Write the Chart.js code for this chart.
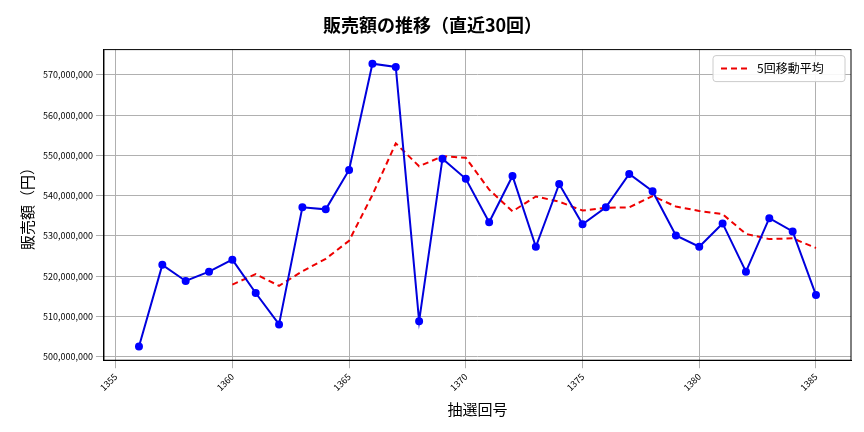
<!DOCTYPE html>
<html><head><meta charset="utf-8">
<script src="https://cdn.jsdelivr.net/npm/chart.js@4/dist/chart.umd.min.js"></script>
<style>html,body{margin:0;padding:0;background:#fff}#w{width:864px;height:432px}</style>
</head><body><div id="w"><canvas id="c"></canvas></div>
<script>
const rounds = [1356,1357,1358,1359,1360,1361,1362,1363,1364,1365,1366,1367,1368,1369,1370,1371,1372,1373,1374,1375,1376,1377,1378,1379,1380,1381,1382,1383,1384,1385];
const sales = [502.5,522.8,518.8,521.1,524.1,515.8,508.0,537.1,536.6,546.4,572.8,572.0,508.8,549.2,544.2,533.4,544.9,527.3,542.9,532.9,537.1,545.4,541.1,530.1,527.3,533.1,521.1,534.4,531.1,515.3];
const maRounds = [1360,1361,1362,1363,1364,1365,1366,1367,1368,1369,1370,1371,1372,1373,1374,1375,1376,1377,1378,1379,1380,1381,1382,1383,1384,1385];
const ma5 = [517.9,520.5,517.6,521.2,524.3,528.8,540.2,553.0,547.3,549.8,549.4,541.5,536.1,539.8,538.5,536.3,537.0,537.1,539.9,537.3,536.2,535.4,530.5,529.2,529.4,527.0];
const xTicks = [1355,1360,1365,1370,1375,1380,1385];
const yTicks = [500,510,520,530,540,550,560,570];
const F = "'Noto Sans CJK JP','Noto Sans',sans-serif";
new Chart(document.getElementById('c'), {
  type:'line',
  data:{datasets:[
    {data:rounds.map((r,i)=>({x:r,y:sales[i]*1e6})),borderColor:'#0000dd',backgroundColor:'#0000ff',borderWidth:2,pointRadius:3,pointBackgroundColor:'#0000ff',pointBorderColor:'#0000ff',tension:0},
    {label:'5回移動平均',data:maRounds.map((r,i)=>({x:r,y:ma5[i]*1e6})),borderColor:'#ee0000',borderWidth:2,borderDash:[6,4],pointRadius:0,tension:0,backgroundColor:'#ee0000'}
  ]},
  options:{responsive:true,maintainAspectRatio:false,animation:false,
    layout:{padding:{left:14,right:13,top:8,bottom:10}},
    plugins:{
      title:{display:true,text:'販売額の推移（直近30回）',font:{family:F,size:18,weight:'bold'},color:'#000',padding:{top:6,bottom:14}},
      legend:{display:false}
    },
    scales:{
      x:{type:'linear',min:1354.5,max:1386.5,
        afterBuildTicks:a=>{a.ticks=xTicks.map(v=>({value:v}));},
        ticks:{font:{family:F,size:9},color:'#000',maxRotation:45,minRotation:45,callback:v=>String(v)},
        grid:{color:'#b0b0b0'},border:{color:'#000'},
        title:{display:true,text:'抽選回号',font:{family:F,size:15},color:'#000'}},
      y:{min:499.1e6,max:576.3e6,
        afterBuildTicks:a=>{a.ticks=yTicks.map(v=>({value:v*1e6}));},
        ticks:{font:{family:F,size:9},color:'#000',callback:v=>v.toLocaleString('en-US')},
        grid:{color:'#b0b0b0'},border:{color:'#000'},
        title:{display:true,text:'販売額（円）',font:{family:F,size:15},color:'#000'}}
    }
  },
  plugins:[{id:'leg',afterDraw(ch){const c=ch.ctx,a=ch.chartArea;
    c.save();c.strokeStyle='#000';c.lineWidth=1;c.strokeRect(a.left,a.top,a.right-a.left,a.bottom-a.top);
    const x=a.right-138,y=a.top+6;
    c.fillStyle='rgba(255,255,255,0.9)';c.strokeStyle='#ccc';
    c.beginPath();c.roundRect(x,y,132,26,3);c.fill();c.stroke();
    c.strokeStyle='#ee0000';c.lineWidth=2;c.setLineDash([6,4]);c.beginPath();c.moveTo(x+8,y+13);c.lineTo(x+36,y+13);c.stroke();
    c.setLineDash([]);c.fillStyle='#000';c.font='12px '+F;c.textBaseline='middle';c.fillText('5回移動平均',x+44,y+13);c.restore();}}]
});
</script></body></html>
